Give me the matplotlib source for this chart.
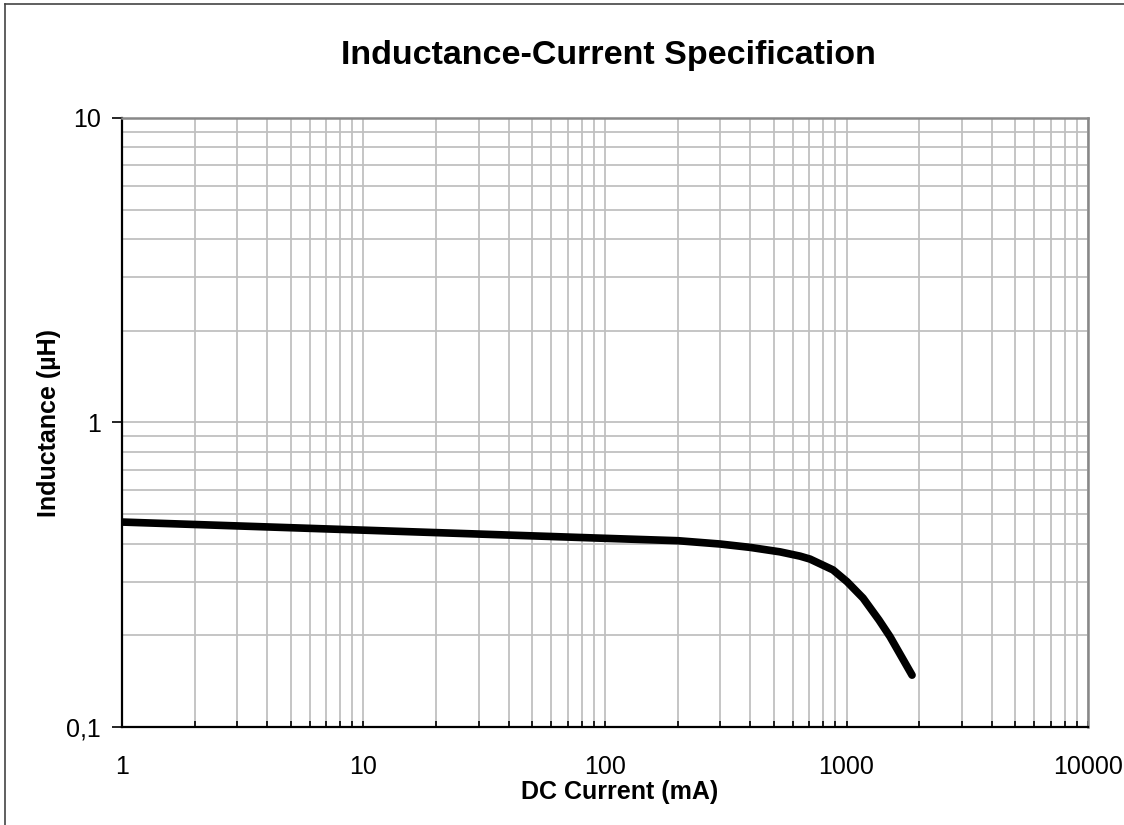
import matplotlib.pyplot as plt
from matplotlib.lines import Line2D
from matplotlib.ticker import FixedLocator, LogLocator, NullFormatter

plt.rcParams['font.family'] = ['Liberation Sans', 'DejaVu Sans']

# values
current_ma = [1, 10, 95.4, 200.6, 299, 398, 530, 642, 706, 879, 1005, 1171, 1363, 1514, 1868]
inductance_uh = [0.471, 0.443, 0.417, 0.409, 0.399, 0.389, 0.376, 0.364, 0.356, 0.328,
                 0.300, 0.265, 0.2245, 0.198, 0.148]

x_ticks = [1, 10, 100, 1000, 10000]
x_labels = ['1', '10', '100', '1000', '10000']
y_ticks = [0.1, 1, 10]
y_labels = ['0,1', '1', '10']


def main():
    fig = plt.figure(figsize=(11.24, 8.25), dpi=100)
    ax = fig.add_axes([0.1085, 0.1188, 0.968 - 0.1085, 0.857 - 0.1188])

    ax.plot(current_ma, inductance_uh, color='black', linewidth=5.5,
            solid_capstyle='round', solid_joinstyle='round', zorder=3)

    ax.set_xscale('log')
    ax.set_yscale('log')
    ax.set_xlim(1, 10000)
    ax.set_ylim(0.1, 10)

    ax.xaxis.set_major_locator(FixedLocator(x_ticks))
    ax.set_xticklabels(x_labels)
    ax.xaxis.set_minor_locator(LogLocator(base=10, subs=range(2, 10)))
    ax.xaxis.set_minor_formatter(NullFormatter())
    ax.yaxis.set_major_locator(FixedLocator(y_ticks))
    ax.set_yticklabels(y_labels)
    ax.yaxis.set_minor_locator(LogLocator(base=10, subs=range(2, 10)))
    ax.yaxis.set_minor_formatter(NullFormatter())

    ax.grid(True, which='both', color='#c0c0c0', linewidth=1.3, zorder=0)
    ax.set_axisbelow(True)

    ax.tick_params(axis='x', which='both', direction='in', length=4, width=1.2,
                   labelsize=18, pad=20)
    ax.tick_params(axis='y', which='major', direction='out', length=7, width=1.2,
                   labelsize=18, pad=8)
    ax.tick_params(axis='y', which='minor', length=0)

    for side in ['left', 'bottom']:
        ax.spines[side].set_color('black')
        ax.spines[side].set_linewidth(1.6)
    for side in ['top', 'right']:
        ax.spines[side].set_color('#888888')
        ax.spines[side].set_linewidth(1.8)

    fig.text(620 / 1124, 1 - 792 / 825, 'DC Current (mA)', fontsize=18,
             fontweight='bold', ha='center', va='center')
    fig.text(49 / 1124, 1 - 423 / 825, 'Inductance (µH)', fontsize=18,
             fontweight='bold', ha='center', va='center', rotation=90)
    fig.text(0.541, 0.933, 'Inductance-Current Specification', fontsize=24.5,
             fontweight='bold', ha='center', va='center')

    # outer chart frame (left and top edges visible)
    fig.add_artist(Line2D([5 / 1124, 5 / 1124], [0, 1 - 4 / 825],
                          transform=fig.transFigure, color='#444444', linewidth=1.2))
    fig.add_artist(Line2D([5 / 1124, 1], [1 - 4 / 825, 1 - 4 / 825],
                          transform=fig.transFigure, color='#444444', linewidth=1.2))

    fig.savefig('out.png', dpi=100)


if __name__ == '__main__':
    main()
